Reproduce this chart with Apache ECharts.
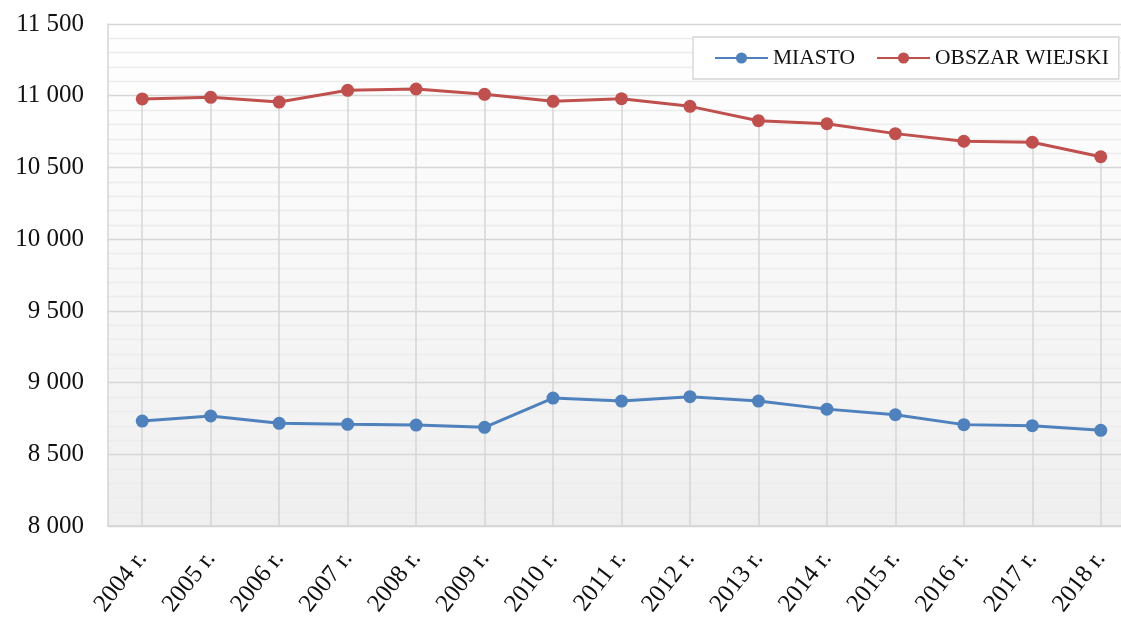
<!DOCTYPE html>
<html>
<head>
<meta charset="utf-8">
<script src="https://cdn.jsdelivr.net/npm/echarts@6/dist/echarts.min.js"></script>
<style>
  html, body { margin: 0; padding: 0; background: #fff; overflow: hidden; width: 1121px; height: 619px; }
  #chart { width: 1135px; height: 619px; }
</style>
</head>
<body>
<div id="chart"></div>
<script>
const categories = ['2004 r.', '2005 r.', '2006 r.', '2007 r.', '2008 r.', '2009 r.', '2010 r.', '2011 r.', '2012 r.', '2013 r.', '2014 r.', '2015 r.', '2016 r.', '2017 r.', '2018 r.'];
const miasto = [8733, 8768, 8717, 8710, 8705, 8689, 8893, 8872, 8903, 8872, 8816, 8777, 8708, 8701, 8668];
const obszarWiejski = [10978, 10989, 10956, 11038, 11047, 11010, 10961, 10979, 10926, 10826, 10805, 10736, 10683, 10676, 10575];
const yMin = 8000, yMax = 11500, yStep = 500;

const FONT = '"Liberation Serif", "DejaVu Serif", serif';
const dropLines = obszarWiejski.map((v, i) => [{ coord: [i, yMin] }, { coord: [i, v] }]);

const chart = echarts.init(document.getElementById('chart'), null, { renderer: 'canvas' });
chart.setOption({
  animation: false,
  backgroundColor: '#ffffff',
  grid: {
    left: 108, top: 24, height: 503, right: 0,
    show: true,
    borderWidth: 0,
    backgroundColor: {
      type: 'linear', x: 0, y: 0, x2: 0, y2: 1,
      colorStops: [{ offset: 0, color: '#ffffff' }, { offset: 1, color: '#efefef' }]
    }
  },
  legend: {
    data: ['MIASTO', 'OBSZAR WIEJSKI'],
    orient: 'horizontal',
    left: 693, top: 37, width: 600,
    backgroundColor: '#ffffff',
    borderColor: '#d4d4d4', borderWidth: 1.3,
    padding: [10, 10, 10, 21],
    itemWidth: 53, itemHeight: 14, itemGap: 21,
    textStyle: { fontFamily: FONT, fontSize: 21.5, color: '#111111', padding: [2, 0, 0, 0] }
  },
  xAxis: {
    type: 'category',
    data: categories,
    boundaryGap: true,
    axisLine: { show: true, lineStyle: { color: '#d4d4d4', width: 1.5 } },
    axisTick: { show: false },
    splitLine: { show: false },
    axisLabel: { rotate: 52, margin: 28, padding: [20, 0, 0, 0], fontFamily: FONT, fontSize: 25, color: '#111111', interval: 0 }
  },
  yAxis: {
    type: 'value',
    min: yMin, max: yMax, interval: yStep,
    axisLine: { show: true, lineStyle: { color: '#d4d4d4', width: 1.5 } },
    axisTick: { show: false },
    axisLabel: {
      margin: 24, fontFamily: FONT, fontSize: 25, color: '#111111',
      formatter: v => String(v).replace(/\B(?=(\d{3})+(?!\d))/g, ' ')
    },
    splitLine: { show: true, lineStyle: { color: '#d6d6d6', width: 1.3 } },
    minorTick: { show: false, splitNumber: 5 },
    minorSplitLine: { show: true, lineStyle: { color: '#ececec', width: 1.3 } }
  },
  series: [
    {
      name: 'MIASTO', type: 'line', data: miasto, z: 4,
      symbol: 'circle', symbolSize: 13,
      lineStyle: { color: '#4f81bd', width: 3 },
      itemStyle: { color: '#4f81bd' }
    },
    {
      name: 'OBSZAR WIEJSKI', type: 'line', data: obszarWiejski, z: 4,
      symbol: 'circle', symbolSize: 13,
      lineStyle: { color: '#c0504d', width: 3 },
      itemStyle: { color: '#c0504d' },
      markLine: {
        silent: true, z: 1,
        symbol: ['none', 'none'],
        label: { show: false },
        lineStyle: { color: '#d6d6d6', width: 1.5, type: 'solid' },
        emphasis: { disabled: true },
        data: dropLines
      }
    }
  ]
});
</script>
</body>
</html>
